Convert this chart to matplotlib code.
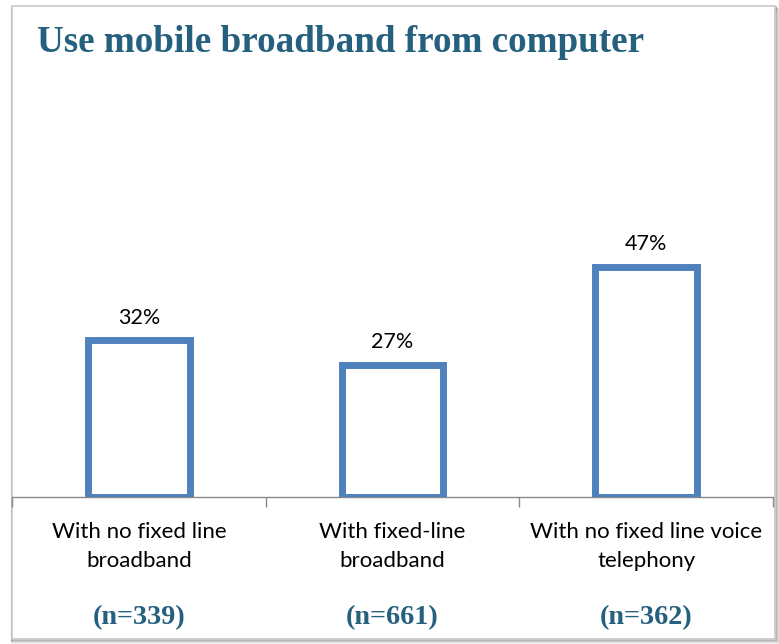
import matplotlib
matplotlib.use("Agg")
import matplotlib.pyplot as plt
from matplotlib.patches import Rectangle
import matplotlib.transforms as mtransforms

categories = ["With no fixed line\nbroadband", "With fixed-line\nbroadband", "With no fixed line voice\ntelephony"]
values = [32, 27, 47]
value_labels = ["32%", "27%", "47%"]
n_labels = ["(n=339)", "(n=661)", "(n=362)"]
title = "Use mobile broadband from computer"

W, H = 779, 644
fig = plt.figure(figsize=(W / 100, H / 100), dpi=100)
fig.patch.set_facecolor("white")

def fx(px):
    return px / W

def fy(py):
    return 1 - py / H

# frame with soft shadow
for i, a in enumerate([0.05, 0.08, 0.12, 0.18]):
    off = 4 - i
    fig.patches.append(Rectangle((fx(12), fy(639 + off)), fx(763 + off), 633 / H,
                                 transform=fig.transFigure, facecolor="none",
                                 edgecolor=(0, 0, 0, a), linewidth=1.5, zorder=-3))
fig.patches.append(Rectangle((fx(12), fy(639)), fx(763), 633 / H, transform=fig.transFigure,
                             facecolor="white", edgecolor="#c8c8c8", linewidth=1.2, zorder=-2))

# axes: x from 12 to 773 px, baseline at 497 px, top at 100 px
ax = fig.add_axes([fx(12), fy(497), fx(761), (497 - 100) / H])
ax.set_facecolor("none")
ymax = 397 / 4.9
ax.set_ylim(0, ymax)
ax.set_xlim(-0.5, 2.5)

x = list(range(len(categories)))
ax.bar(x, values, width=0.4, facecolor="white", edgecolor="#4F81BD", linewidth=5, zorder=3)

for xi, v, lab in zip(x, values, value_labels):
    ax.annotate(lab, (xi, v), xytext=(0, 9), textcoords="offset points", ha="center", va="bottom",
                fontsize=15.5, family="Lato", color="#000000")

for s in ["top", "right", "left"]:
    ax.spines[s].set_visible(False)
ax.spines["bottom"].set_color("#898989")
ax.spines["bottom"].set_linewidth(1.0)
ax.set_yticks([])
ax.set_xticks(x)
ax.set_xticklabels(categories, fontsize=16, family="Lato", color="#000000", linespacing=1.55)
ax.tick_params(axis="x", which="major", length=0, pad=18)
ax.set_xticks([-0.5, 0.5, 1.5, 2.5], minor=True)
ax.tick_params(axis="x", which="minor", length=7, color="#898989", width=1.0, direction="out")

trans = mtransforms.blended_transform_factory(ax.transData, fig.transFigure)
for xi, nl in zip(x, n_labels):
    ax.text(xi, fy(618), nl, transform=trans, ha="center", va="center", fontsize=20.3,
            family="Liberation Serif", fontweight="bold", color="#26607F")

fig.text(fx(37), fy(42), title, ha="left", va="center", fontsize=26.7, family="Liberation Serif",
         fontweight="bold", color="#26607F")

fig.savefig("out.png", dpi=100)
